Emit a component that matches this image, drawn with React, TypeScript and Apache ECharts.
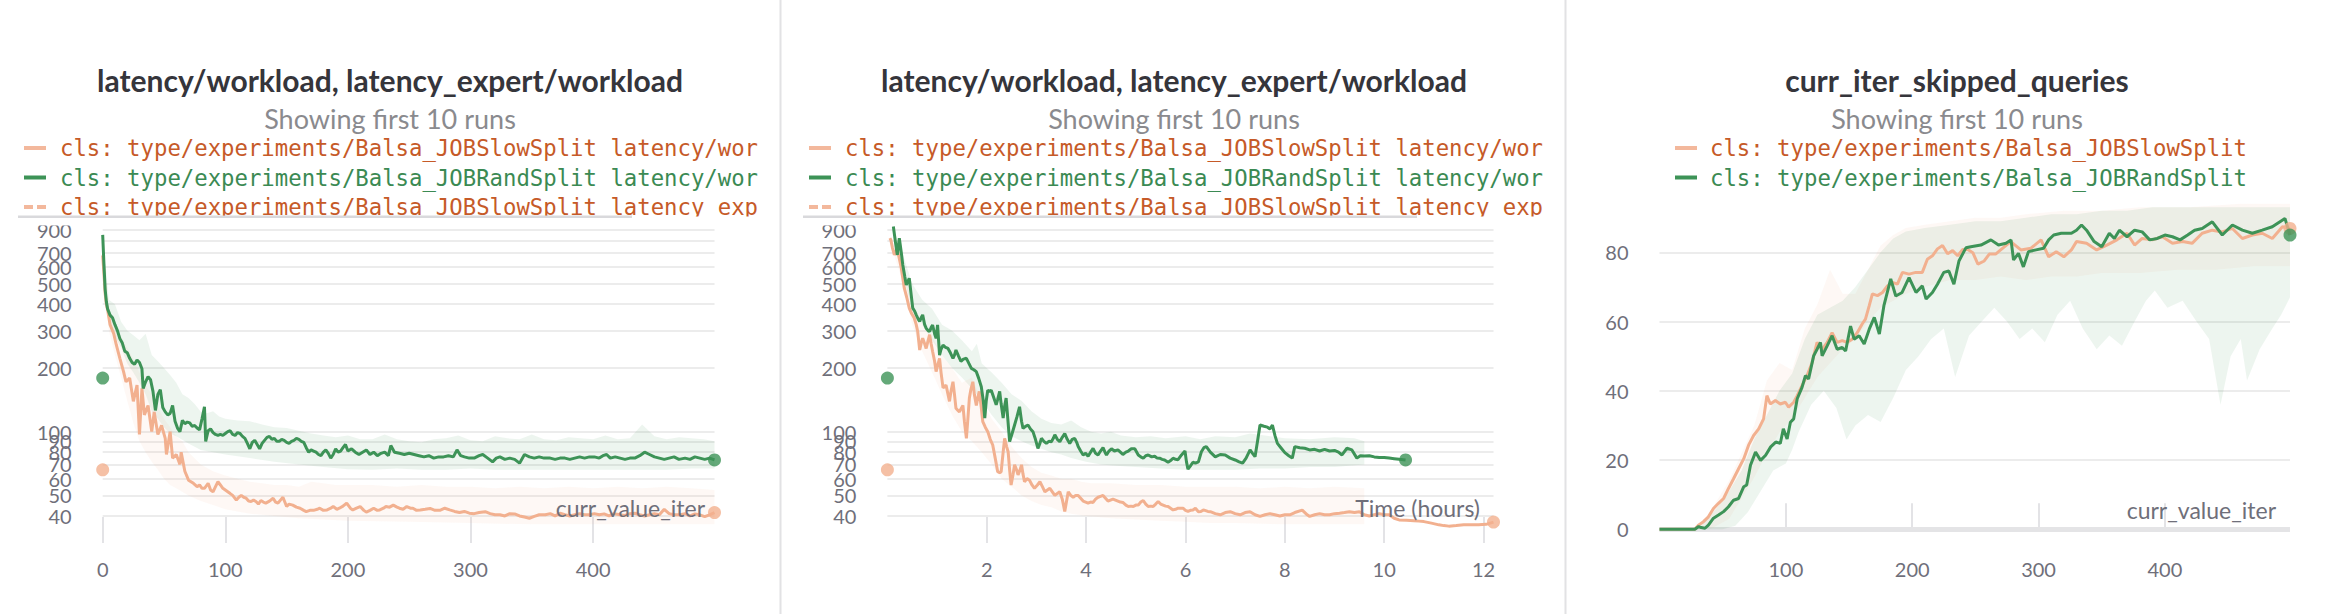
import React, { useEffect, useRef } from 'react';
import * as echarts from 'echarts';

// ---------------- Panel 1: latency vs curr_value_iter ----------------
const iterSlowLatency: number[][] = [
  [0,680],[1,560],[2,450],[3,400],[4,376],[6,320],[9,290],[11,258],[14,222],[17,192],[19,172],[22,179],[25,139],[28,166],[30,97],[32,160],[34,120],[37,133],[40,100],[42,124],[45,97],[48,107],[51,93],[52,78],[55,100],[57,75],[60,78],[63,70],[64,80],[67,65],[70,59],[72,58],[74,57],[77,55],[79,56],[81,54],[83,54],[86,57],[88,53],[90,52],[92,55],[94,58],[96,56],[98,54],[100,53],[102,52],[104,51],[106,50],[109,47.5],[111,49],[113,50],[115,49],[117,48.5],[119,47],[121,46.8],[123,47.5],[125,46.8],[127,45.5],[129,47.3],[131,46.5],[133,46],[136,47],[139,48.5],[141,46.5],[143,46],[145,47.5],[147,49],[150,44.3],[152,45.5],[155,45],[158,44],[161,43.5],[164,42.5],[166,41.9],[169,42.5],[172,42.5],[175,43],[177,43.5],[180,42.5],[183,42.7],[186,43.5],[188,44.3],[191,43],[193,43.5],[196,44.5],[199,46],[202,43.5],[204,42.7],[207,43.5],[210,44.3],[213,42.5],[215,41.7],[218,42.5],[221,43.5],[224,42.5],[226,42.7],[229,43.5],[231,44.3],[234,44],[237,45],[240,44],[242,43.5],[245,43],[248,44.3],[251,43.5],[253,43.5],[256,42.5],[259,42.7],[263,43],[267,43.4],[271,42.5],[275,42.5],[279,43.5],[283,42.7],[287,42],[291,41.5],[295,42],[299,41.2],[303,41],[307,41.5],[312,41.9],[316,41],[320,40.5],[324,40.5],[328,40],[332,41],[336,40.9],[340,40],[344,39.5],[348,39],[352,39.8],[356,40.5],[361,40.5],[365,41],[369,40],[373,41.2],[377,40.5],[381,40],[385,40.5],[389,41],[393,40.5],[397,40.5],[401,41],[405,40.5],[409,40.9],[413,40],[417,41],[422,40.5],[426,40.2],[430,41],[434,41.2],[438,40.5],[442,40],[446,40.5],[450,41],[454,40.5],[458,43],[462,41],[466,40.5],[471,40.5],[475,41],[479,40],[483,40.9],[487,40.5],[491,39.7],[495,40.5],[499,41.5],
];
const iterRandLatency: number[][] = [
  [0,850],[1,620],[2,470],[3,410],[4,380],[6,355],[8,345],[10,320],[12,300],[14,275],[16,262],[18,240],[20,236],[22,222],[24,212],[26,208],[28,218],[30,212],[32,198],[33,160],[35,172],[37,182],[39,176],[41,155],[43,126],[45,150],[47,158],[49,130],[51,124],[53,120],[55,122],[57,133],[59,112],[61,104],[63,100],[65,113],[67,109],[69,111],[71,110],[73,106],[75,107],[77,104],[79,102],[81,115],[83,131],[84,90],[86,101],[88,103],[90,99],[92,97],[94,96],[96,97],[98,96],[100,98],[102,100],[104,101],[106,97],[108,96],[110,99],[112,98],[114,95],[116,93],[118,88],[120,83],[122,89],[124,91],[126,87],[128,83],[130,88],[132,91],[134,94],[136,95],[138,92],[140,93],[142,90],[144,90],[146,92],[148,91],[150,89],[152,88],[154,90],[156,91],[158,93],[160,92],[162,90],[164,89],[166,84],[168,80],[170,82],[172,81],[174,80],[176,78],[178,77],[180,80],[182,82],[184,79],[186,75],[188,78],[190,83],[192,80],[194,81],[196,84],[198,87],[200,81],[203,83],[206,80],[209,78],[212,80],[215,82],[218,78],[221,80],[224,77],[227,79],[230,80],[233,77],[235,86],[238,80],[242,79],[246,78],[250,79],[254,78],[258,77],[262,76],[266,77],[270,75],[274,76],[278,76],[282,77],[286,76],[289,82],[292,77],[295,76],[299,75],[303,75],[307,77],[310,78],[314,75],[318,72],[321,75],[324,76],[328,74],[332,75],[336,74],[340,71],[344,78],[348,76],[352,75],[356,76],[360,75],[365,75],[369,74],[373,75],[377,75],[381,74],[385,75],[389,76],[393,75],[397,76],[401,76],[405,75],[408,77],[411,78],[414,75],[418,76],[422,75],[426,74],[430,75],[434,75],[438,77],[442,80],[446,78],[450,76],[454,75],[458,74],[462,75],[466,76],[470,74],[475,75],[479,74],[483,76],[487,75],[491,74],[495,75],[499,73.5],
];
const iterRandUpper: number[][] = [
  [0,850],[5,420],[10,400],[15,330],[20,300],[25,285],[30,270],[35,290],[40,230],[45,215],[50,200],[55,185],[60,170],[65,150],[70,144],[75,135],[80,124],[85,122],[90,125],[95,118],[100,115],[110,113],[120,112],[130,108],[140,105],[150,104],[160,101],[170,98],[180,96],[190,94],[200,96],[210,92],[220,92],[230,97],[240,92],[250,90],[260,89],[270,92],[280,93],[290,96],[300,91],[310,90],[320,95],[330,93],[340,92],[350,97],[360,92],[370,91],[380,94],[390,93],[400,92],[410,96],[420,92],[430,93],[440,108],[450,95],[460,92],[470,94],[480,93],[490,92],[499,90],
];
const iterRandLower: number[][] = [
  [0,850],[5,320],[10,280],[15,250],[20,210],[25,190],[30,170],[35,150],[40,125],[45,115],[50,105],[55,98],[60,95],[70,88],[80,82],[90,80],[100,78],[120,75],[140,72],[160,70],[180,68],[200,66.5],[220,66],[240,67],[260,66],[280,66],[300,67],[320,66],[340,66],[360,66],[380,66],[400,66],[420,66],[440,66],[460,66],[480,67],[499,67],
];
const iterSlowUpper: number[][] = [
  [0,700],[5,380],[10,330],[15,280],[20,250],[25,220],[30,190],[35,165],[40,150],[45,130],[50,115],[55,105],[60,95],[65,90],[70,80],[80,70],[90,65],[100,62],[110,60],[120,58],[130,57],[140,56],[150,56],[160,55],[170,58],[180,57],[190,56],[200,56],[220,56],[240,55],[260,56],[280,55],[300,55],[320,54],[340,55],[360,54],[380,55],[400,54],[420,55],[440,54],[460,55],[480,54],[499,53],
];
const iterSlowLower: number[][] = [
  [0,650],[5,300],[10,230],[15,180],[20,140],[25,110],[30,90],[35,80],[40,72],[45,66],[50,60],[55,56],[60,54],[70,50],[80,47],[90,45],[100,43],[120,41],[140,40],[160,39],[180,38.5],[200,38],[250,37.5],[300,37],[350,36.5],[400,36.5],[450,36.5],[499,36.5],
];
const expertSlowLatency = 66;
const expertRandLatency = 179;

// ---------------- Panel 2: latency vs Time (hours) ----------------
const timeSlowLatency: number[][] = [
  [0.05,820],[0.07,804],[0.1,740],[0.14,683],[0.17,720],[0.21,707],[0.25,640],[0.28,591],[0.31,530],[0.34,476],[0.39,430],[0.44,383],[0.49,360],[0.54,344],[0.58,320],[0.61,297],[0.65,243],[0.68,262],[0.71,276],[0.75,260],[0.78,247],[0.82,270],[0.85,287],[0.88,260],[0.91,239],[0.95,215],[0.98,192],[1.01,205],[1.05,222],[1.08,190],[1.12,161],[1.15,163],[1.18,166],[1.22,150],[1.25,139],[1.28,155],[1.32,172],[1.35,150],[1.38,129],[1.42,126],[1.45,124],[1.48,128],[1.52,133],[1.55,112],[1.59,93],[1.62,115],[1.65,144],[1.68,158],[1.72,172],[1.75,150],[1.79,133],[1.82,145],[1.85,155],[1.89,130],[1.92,111.6],[1.97,105],[2.02,100],[2.07,92],[2.12,86.5],[2.17,75],[2.22,64.7],[2.26,64],[2.29,64.7],[2.33,80],[2.36,93],[2.4,85],[2.43,80.4],[2.46,66],[2.49,56],[2.53,63],[2.56,69.7],[2.6,66],[2.63,62.5],[2.67,66],[2.7,69.7],[2.73,63],[2.76,58],[2.81,60],[2.86,59],[2.91,56],[2.96,54],[3.02,56],[3.07,58],[3.12,55],[3.17,52],[3.22,53],[3.27,54],[3.32,52],[3.37,50],[3.42,51],[3.47,52],[3.52,48],[3.57,42],[3.6,46],[3.64,52],[3.69,50],[3.74,49],[3.79,50],[3.84,50],[3.89,48.5],[3.94,47],[3.99,46.5],[4.04,46],[4.09,46.5],[4.14,46.3],[4.19,48],[4.24,49],[4.29,49.5],[4.34,50],[4.39,48.5],[4.44,47],[4.49,47.5],[4.54,48],[4.59,47.5],[4.64,47],[4.69,46.5],[4.74,46.3],[4.8,45],[4.85,44.3],[4.9,44.5],[4.95,44.3],[5.0,45],[5.05,45],[5.1,46.5],[5.15,47.3],[5.2,45.5],[5.25,44.3],[5.3,44.5],[5.35,44.3],[5.4,45.5],[5.45,46.8],[5.5,45.5],[5.55,45],[5.6,44.5],[5.65,44.3],[5.7,43.5],[5.75,42.7],[5.8,43],[5.85,43.5],[5.9,43.5],[5.95,43.5],[6.0,42.5],[6.05,42],[6.1,42.5],[6.15,42.7],[6.2,43.5],[6.26,41.9],[6.31,42],[6.36,42.7],[6.45,42],[6.5,41.9],[6.6,41],[6.7,40.5],[6.8,41.5],[6.9,41.9],[7.0,41],[7.1,40.5],[7.2,41.5],[7.3,41.9],[7.4,40.5],[7.5,39.8],[7.6,40.5],[7.7,41],[7.8,40.5],[7.9,40],[8.0,40.5],[8.1,40.5],[8.2,41.5],[8.35,42.6],[8.45,40.5],[8.5,39.8],[8.6,40.5],[8.7,41],[8.8,40.5],[8.9,40.5],[9.0,41],[9.1,41.2],[9.2,41.5],[9.3,41.9],[9.4,41.5],[9.5,41.9],[9.6,40.5],[9.7,40],[9.8,40.5],[9.9,41],[10.0,40.5],[10.1,40.5],[10.2,39],[10.3,38.3],[10.45,38.2],[10.6,38],[10.7,37.8],[10.8,37.6],[10.95,37],[11.1,36.3],[11.2,36],[11.3,35.8],[11.45,36],[11.6,36.3],[11.75,36.3],[11.9,36.3],[12.05,36.5],[12.2,37.4],
];
const timeRandLatency: number[][] = [
  [0.12,930],[0.17,760],[0.2,683],[0.24,820],[0.28,700],[0.31,613],[0.35,540],[0.38,493],[0.44,530],[0.48,440],[0.51,383],[0.55,370],[0.58,356],[0.62,340],[0.65,331],[0.68,345],[0.71,356],[0.75,320],[0.78,308],[0.82,300],[0.85,297],[0.88,310],[0.91,319],[0.95,290],[0.98,276],[1.01,319],[1.05,230],[1.08,245],[1.12,256],[1.17,250],[1.22,247],[1.27,235],[1.32,222],[1.35,230],[1.38,243],[1.43,228],[1.48,215],[1.53,220],[1.59,222],[1.64,210],[1.69,199],[1.74,196],[1.79,192],[1.84,178],[1.89,163],[1.93,140],[1.96,116],[1.99,140],[2.02,157],[2.06,155],[2.09,157],[2.14,145],[2.19,134],[2.22,142],[2.26,155],[2.29,135],[2.33,116],[2.36,132],[2.39,144],[2.43,110],[2.46,89.7],[2.51,98],[2.56,107.5],[2.61,118],[2.66,131],[2.7,112],[2.73,103.5],[2.78,106],[2.83,107.5],[2.88,103],[2.93,100],[2.98,92],[3.03,83.4],[3.07,88],[3.1,93],[3.15,90],[3.2,88],[3.25,90],[3.3,89.7],[3.34,93],[3.37,96.6],[3.42,92],[3.47,89.7],[3.52,94],[3.57,98],[3.62,92],[3.67,88],[3.72,92],[3.77,93],[3.81,89],[3.84,85],[3.89,81],[3.94,77.6],[3.99,79],[4.04,76.5],[4.09,80],[4.14,83.4],[4.19,79],[4.24,77.6],[4.29,81],[4.34,84],[4.38,80],[4.41,77.6],[4.46,81],[4.51,83],[4.57,81],[4.64,82],[4.69,80],[4.74,78],[4.8,80],[4.85,81],[4.91,83],[4.98,83],[5.05,77.6],[5.1,76],[5.15,74.9],[5.2,77],[5.25,77.6],[5.32,76],[5.38,76.5],[5.43,75],[5.48,74.9],[5.53,74],[5.58,73.5],[5.65,71.7],[5.7,73],[5.75,74.9],[5.8,74],[5.85,73.7],[5.92,77.6],[5.99,81],[6.02,72],[6.05,66.5],[6.1,69],[6.15,71.7],[6.2,71],[6.26,72],[6.32,80.4],[6.37,84],[6.42,85],[6.5,80],[6.6,76],[6.7,78],[6.8,77.6],[6.9,75],[7.0,73.5],[7.08,72],[7.15,71],[7.22,75],[7.3,82],[7.35,79],[7.4,76.2],[7.45,90],[7.5,107.5],[7.58,106],[7.65,105],[7.7,103],[7.75,107.5],[7.8,96],[7.85,88],[7.92,84],[8.0,79.6],[8.08,77],[8.15,75],[8.2,85],[8.3,84],[8.4,83.5],[8.5,82],[8.6,82.5],[8.7,81],[8.8,82.5],[8.9,81],[9.0,81.5],[9.08,80],[9.15,77.6],[9.25,83.5],[9.35,82],[9.45,75],[9.52,77],[9.6,76.7],[9.7,77],[9.8,76],[9.9,75.5],[10.0,75.5],[10.1,75],[10.2,74.5],[10.3,74],[10.43,73.5],
];
const timeRandUpper: number[][] = [
  [0.1,930],[0.3,700],[0.5,500],[0.7,420],[0.9,380],[1.1,320],[1.3,300],[1.5,270],[1.7,240],[1.8,260],[1.9,210],[2.1,190],[2.3,170],[2.5,150],[2.7,140],[2.9,125],[3.1,115],[3.3,110],[3.5,108],[3.7,113],[3.9,105],[4.1,100],[4.3,98],[4.5,100],[4.7,96],[5.0,94],[5.3,95],[5.6,93],[6.0,95],[6.3,92],[6.6,95],[7.0,94],[7.3,98],[7.6,96],[8.0,93],[8.5,92],[9.0,94],[9.4,93],[9.6,90],
];
const timeRandLower: number[][] = [
  [0.1,900],[0.3,560],[0.5,380],[0.7,320],[0.9,270],[1.1,230],[1.3,200],[1.5,180],[1.7,160],[1.9,140],[2.1,120],[2.3,105],[2.5,95],[2.7,90],[2.9,86],[3.1,83],[3.3,80],[3.5,78],[3.7,75],[4.0,72],[4.3,70],[4.6,69],[5.0,68],[5.5,67],[6.0,66],[6.5,66],[7.0,66],[7.5,67],[8.0,67],[8.5,68],[9.0,68],[9.6,70],
];
const timeSlowUpper: number[][] = [
  [0.05,830],[0.3,620],[0.5,400],[0.7,320],[0.9,280],[1.1,230],[1.3,200],[1.5,170],[1.7,180],[1.9,140],[2.1,115],[2.3,100],[2.5,85],[2.7,75],[2.9,68],[3.1,64],[3.3,62],[3.5,60],[3.7,60],[3.9,58],[4.1,57],[4.5,57],[5.0,56],[5.5,56],[6.0,55],[6.5,55],[7.0,55],[7.5,54],[8.0,55],[8.5,54],[9.0,55],[9.6,54],
];
const timeSlowLower: number[][] = [
  [0.05,780],[0.3,520],[0.5,320],[0.7,240],[0.9,190],[1.1,150],[1.3,120],[1.5,100],[1.7,90],[1.9,80],[2.1,70],[2.3,60],[2.5,55],[2.7,50],[2.9,47],[3.1,45],[3.3,44],[3.5,42],[3.7,41],[4.0,40],[4.5,39],[5.0,38.5],[5.5,38],[6.0,37.5],[6.5,37],[7.0,37],[8.0,36.5],[9.0,36.5],[9.6,36.5],
];

// ---------------- Panel 3: curr_iter_skipped_queries ----------------
const skipSlow: number[][] = [
  [0,0],[10,0],[20,0],[28,0],[30.8,1.2],[34.8,2.2],[38.7,3.6],[42.7,6],[46.7,7.5],[50.7,8.9],[54.6,11.8],[58.6,14.6],[62.6,17.5],[66.7,20.4],[70.5,24.3],[74.5,27.1],[78.5,29],[82.4,31.9],[85,38.6],[87.7,36.2],[91.7,37.2],[95.6,36.2],[99.6,36.7],[102.2,35.3],[106.2,36.7],[109,38.6],[112.8,41.5],[116.8,44.4],[120.8,48.2],[124.7,54],[128.7,52],[132.7,54],[136.6,56.8],[140.6,54],[144.6,54.5],[148.5,54],[152.5,54.9],[156.5,56.8],[160.4,59.3],[163,60.7],[166,64.6],[168.5,68],[172.5,67.5],[176.5,68.4],[180.4,70.3],[184.4,71.3],[188.3,70.8],[192.3,74.2],[197.5,73.7],[202.8,74.2],[208,74.2],[212,78],[216,79],[220,81],[224,82],[228,79.6],[232,80.5],[236,79],[240,80.8],[244,80.8],[248,79.9],[252,76.6],[257,77.5],[261,79.5],[266,79.5],[270,80.7],[278,83.1],[286,80.7],[294,81.2],[302,83.6],[308,78.7],[314,80.2],[320,78.7],[326,80.7],[330,83.1],[338,82.6],[346,80.7],[354,82.1],[362,83.6],[370,85.5],[376,82.1],[382,84],[390,83.6],[398,84.5],[406,82.6],[414,83.1],[421.5,82.6],[429.5,85.5],[437.5,86.4],[445.4,85.9],[453.4,86.9],[461.3,84],[469.2,85],[477,85.5],[485,84],[493,87.4],[499,86.9],
];
const skipRand: number[][] = [
  [0,0],[10,0],[20,0],[28,0],[31,0.8],[33,0.5],[36,0.3],[38.7,1.2],[42.7,3.2],[46.7,4.1],[50.7,5.1],[54.6,6.5],[58.6,8.4],[62.6,8.9],[66.7,12.3],[69,12.8],[72,18.5],[76,22.3],[80,19.9],[84,21.4],[88,23.8],[92,25.2],[95.6,24.8],[98,29],[101,26.1],[103.6,30.9],[106.2,31.9],[109,37.7],[112.8,41],[115.5,44.4],[118,43.4],[122,50.1],[124.7,52],[127.4,54],[128.7,50.1],[132.7,53],[136.6,55.9],[140.6,52],[144.6,52.5],[147.3,51.5],[151.2,58.7],[154,54.9],[158,55.9],[162,53.5],[166,57.8],[170,61.2],[174,56.4],[177.6,64.6],[183,72.3],[187,67.4],[192,68.4],[197.5,72.7],[203,68.4],[208,70.3],[211,66.5],[216,68.4],[220,70.8],[225,74.2],[229,74.6],[233,70.8],[237,77.5],[242.5,81.3],[246.4,81.6],[254.4,82.1],[262.3,83.6],[268.3,82.1],[274.2,82.6],[278.2,83.6],[280.2,77.8],[284.1,79.7],[288,75.8],[292,80.2],[298,80.7],[304,81.2],[308,83.6],[312,85],[318,85.5],[326,85.5],[330,86.4],[334,87.9],[338,86.4],[344,83.1],[350,81.6],[356,85.5],[360,84],[364,86.4],[370,84.5],[376,86.4],[382,85.9],[388,83.6],[394,84],[400,85],[406,84.5],[412,83.6],[418,85],[423.5,86.4],[429.5,86.9],[437.5,88.8],[445.4,85],[453.4,87.9],[461.3,86.4],[469.2,85.5],[477,86.4],[485,87.4],[495,89.8],[499,85],
];
const skipRandUpper: number[][] = [
  [0,0],[25,0],[35,2],[45,6],[55,11],[65,17],[75,26],[85,33],[95,40],[105,45],[115,55],[125,62],[135,64],[145,66],[155,70],[165,75],[175,80],[185,84],[195,86],[210,87],[230,88],[250,89],[270,89],[290,90],[310,91],[330,91],[350,92],[370,92],[390,93],[410,93],[430,93],[450,93],[470,93],[490,93],[499,93],
];
const skipRandLower: number[][] = [
  [0,0],[40,0],[50,0],[60,1],[70,5],[80,11],[90,17],[100,19],[105,23],[110,28],[120,36],[130,40],[140,35],[148,26],[155,30],[165,33],[175,31],[185,38],[195,46],[205,50],[215,55],[225,58],[234,44],[245,56],[255,60],[265,64],[275,60],[285,55],[295,58],[305,54],[315,62],[325,66],[335,58],[346,52],[356,56],[366,53],[376,60],[385,66],[392,69],[402,64],[414,66],[425,60],[435,55],[444,36],[452,50],[460,55],[465,43],[475,52],[485,58],[492,62],[499,67],
];
const skipSlowUpper: number[][] = [
  [0,0],[25,0],[35,2],[45,8],[55,14],[65,22],[75,30],[85,43],[95,48],[105,46],[115,58],[125,65],[135,75],[145,68],[155,68],[165,75],[175,82],[185,85],[195,87],[210,88],[230,89],[250,90],[270,90],[290,91],[320,92],[350,92],[380,93],[420,93],[460,94],[499,94],
];
const skipSlowLower: number[][] = [
  [0,0],[40,0],[55,3],[65,9],[75,15],[85,22],[95,28],[105,32],[115,38],[125,44],[135,48],[145,52],[155,55],[165,60],[175,64],[185,66],[195,68],[210,70],[230,72],[250,72],[270,73],[290,72],[310,73],[330,73],[350,74],[380,74],[410,75],[440,75],[470,76],[499,76],
];

// ---------------- ticks & texts ----------------
const logTicks = [40, 50, 60, 70, 80, 90, 100, 200, 300, 400, 500, 600, 700, 800, 900];
const iterTicks = [0, 100, 200, 300, 400];
const hourTicks = [2, 4, 6, 8, 10, 12];
const skipIterTicks = [100, 200, 300, 400];
const skipTicks = [0, 20, 40, 60, 80];

const latencyTitle = 'latency/workload, latency_expert/workload';
const skipTitle = 'curr_iter_skipped_queries';
const subtitle = 'Showing first 10 runs';
const latencyLegend = [
  'cls: type/experiments/Balsa_JOBSlowSplit latency/wor',
  'cls: type/experiments/Balsa_JOBRandSplit latency/wor',
  'cls: type/experiments/Balsa_JOBSlowSplit latency_exp',
];
const skipLegend = [
  'cls: type/experiments/Balsa_JOBSlowSplit',
  'cls: type/experiments/Balsa_JOBRandSplit',
];

const SLOW = '#f2b08f';
const RAND = '#3d9357';
const SLOW_TXT = '#c65a28';
const RAND_TXT = '#3b8a53';
const SLOW_BAND = 'rgba(242,176,143,0.09)';
const RAND_BAND = 'rgba(61,147,87,0.095)';
const LABEL = '#6f6f7a';
const GRIDLINE = '#ececec';

function band(upper: number[][], lower: number[][], fill: string, idx: number) {
  return {
    type: 'custom',
    xAxisIndex: idx,
    yAxisIndex: idx,
    silent: true,
    clip: true,
    z: 1,
    data: [upper[0]],
    renderItem: (_p: any, api: any) => {
      const pts = upper.map((p) => api.coord(p)).concat(lower.slice().reverse().map((p) => api.coord(p)));
      return { type: 'polygon', shape: { points: pts }, style: { fill } };
    },
  };
}

function line(data: number[][], color: string, idx: number) {
  return {
    type: 'line', data, xAxisIndex: idx, yAxisIndex: idx, showSymbol: false, symbol: 'none',
    silent: true, z: 3, lineStyle: { color, width: 3 }, itemStyle: { color },
  };
}

function dot(data: number[][], color: string, idx: number) {
  return {
    type: 'scatter', data, xAxisIndex: idx, yAxisIndex: idx, symbolSize: 13, clip: false,
    silent: true, z: 4, itemStyle: { color },
  };
}

const tickLabel = { color: LABEL, fontSize: 20, fontFamily: 'Lato' };

function xAxis(idx: number, max: number, ticks: number[]) {
  return {
    type: 'value', gridIndex: idx, min: 0, max,
    axisLine: { show: false }, splitLine: { show: false },
    axisTick: { show: true, inside: true, length: 26, lineStyle: { color: '#e3e3e6', width: 2 }, customValues: ticks },
    axisLabel: { ...tickLabel, margin: 16, customValues: ticks, showMinLabel: true, showMaxLabel: true },
  };
}

function logYAxis(idx: number) {
  return {
    type: 'log', logBase: 10, gridIndex: idx, min: 29.8, max: 950,
    axisLine: { show: false },
    axisTick: { show: false, customValues: logTicks },
    axisLabel: { ...tickLabel, margin: 31, customValues: logTicks, showMinLabel: true, showMaxLabel: true, hideOverlap: false },
    splitLine: { show: true, showMinLine: true, showMaxLine: true, lineStyle: { color: GRIDLINE, width: 2 } },
  };
}

function txt(text: string, x: number, y: number, font: string, fill: string, align = 'left') {
  return {
    type: 'text', x, y, z: 60, silent: true,
    style: { text, font, fill, align, verticalAlign: 'middle', textAlign: align, textVerticalAlign: 'middle' },
  };
}
function box(x: number, y: number, w: number, h: number, fill: string, z = 60) {
  return { type: 'rect', silent: true, z, shape: { x, y, width: w, height: h }, style: { fill } };
}

function legendBlock(iconX: number, textX: number, texts: string[], withExpert: boolean) {
  const els: any[] = [];
  const ys = [148, 177.5, 207];
  const font = '22.3px "DejaVu Sans Mono"';
  els.push(box(iconX, ys[0] - 2, 22, 4, '#f3b89c'));
  els.push(txt(texts[0], textX, ys[0], font, SLOW_TXT));
  els.push(box(iconX, ys[1] - 2, 22, 4, RAND));
  els.push(txt(texts[1], textX, ys[1], font, RAND_TXT));
  if (withExpert) {
    els.push(box(iconX, ys[2] - 2, 9, 4, '#f3b89c'));
    els.push(box(iconX + 13, ys[2] - 2, 9, 4, '#f3b89c'));
    els.push(txt(texts[2], textX, ys[2], font, SLOW_TXT));
    // legend viewport clipping + scroll bar
    els.push(box(iconX - 12, 216.5, 750, 9, '#ffffff', 70));
    els.push(box(iconX - 6, 215.5, 614, 2.5, '#d9d9dc', 71));
  }
  return els;
}

export default function App() {
  const ref = useRef<HTMLDivElement>(null);
  useEffect(() => {
    if (!ref.current) return;
    const chart = echarts.init(ref.current, null, { renderer: 'svg' });
    const lastOf = (d: number[][]) => [d[d.length - 1]];
    const option: any = {
      animation: false,
      backgroundColor: '#ffffff',
      textStyle: { fontFamily: 'Lato' },
      grid: [
        { left: 102.7, top: 224.6, width: 611.8, height: 318.4, containLabel: false, outerBoundsMode: 'none' },
        { left: 887.4, top: 224.6, width: 606.1, height: 318.4, containLabel: false, outerBoundsMode: 'none' },
        { left: 1659.5, top: 200.4, width: 630.5, height: 342.6, containLabel: false, outerBoundsMode: 'none' },
      ],
      xAxis: [xAxis(0, 499, iterTicks), xAxis(1, 12.2, hourTicks), xAxis(2, 499, skipIterTicks)],
      yAxis: [
        logYAxis(0),
        logYAxis(1),
        {
          type: 'value', gridIndex: 2, min: -3.96, max: 95,
          axisLine: { show: false },
          axisTick: { show: false, customValues: skipTicks },
          axisLabel: { ...tickLabel, margin: 31, customValues: skipTicks, showMinLabel: true, showMaxLabel: true },
          splitLine: { show: true, lineStyle: { color: GRIDLINE, width: 2 } },
        },
      ],
      series: [
        band(iterRandUpper, iterRandLower, RAND_BAND, 0),
        band(iterSlowUpper, iterSlowLower, SLOW_BAND, 0),
        line(iterSlowLatency, SLOW, 0),
        line(iterRandLatency, RAND, 0),
        dot(lastOf(iterSlowLatency), SLOW, 0),
        dot(lastOf(iterRandLatency), RAND, 0),
        dot([[0, expertSlowLatency]], SLOW, 0),
        dot([[0, expertRandLatency]], RAND, 0),

        band(timeRandUpper, timeRandLower, RAND_BAND, 1),
        band(timeSlowUpper, timeSlowLower, SLOW_BAND, 1),
        line(timeSlowLatency, SLOW, 1),
        line(timeRandLatency, RAND, 1),
        dot(lastOf(timeSlowLatency), SLOW, 1),
        dot(lastOf(timeRandLatency), RAND, 1),
        dot([[0, expertSlowLatency]], SLOW, 1),
        dot([[0, expertRandLatency]], RAND, 1),

        {
          type: 'line', data: [[0, 0]], xAxisIndex: 2, yAxisIndex: 2, showSymbol: false, symbol: 'none',
          silent: true, z: 1, lineStyle: { opacity: 0 },
          markLine: {
            silent: true, symbol: 'none', z: 1, label: { show: false },
            lineStyle: { color: '#e4e4e6', width: 5, type: 'solid' },
            data: [{ yAxis: 0 }],
          },
        },
        band(skipSlowUpper, skipSlowLower, SLOW_BAND, 2),
        band(skipRandUpper, skipRandLower, RAND_BAND, 2),
        line(skipSlow, SLOW, 2),
        line(skipRand, RAND, 2),
        dot(lastOf(skipSlow), SLOW, 2),
        dot(lastOf(skipRand), RAND, 2),
      ],
      graphic: [
        box(779.5, 0, 2, 614, '#e2e2e4'),
        box(1564.5, 0, 2, 614, '#e2e2e4'),
        txt(latencyTitle, 390, 80, 'bold 30px Lato', '#35353b', 'center'),
        txt(latencyTitle, 1174, 80, 'bold 30px Lato', '#35353b', 'center'),
        txt(skipTitle, 1957, 80, 'bold 30px Lato', '#35353b', 'center'),
        txt(subtitle, 390, 118, '27px Lato', '#8a8a8e', 'center'),
        txt(subtitle, 1174, 118, '27px Lato', '#8a8a8e', 'center'),
        txt(subtitle, 1957, 118, '27px Lato', '#8a8a8e', 'center'),
        ...legendBlock(24, 60, latencyLegend, true),
        ...legendBlock(809, 845, latencyLegend, true),
        ...legendBlock(1675, 1710, skipLegend, false),
        txt('curr_value_iter', 705, 508, '23px Lato', LABEL, 'right'),
        txt('Time (hours)', 1480, 508, '23px Lato', LABEL, 'right'),
        txt('curr_value_iter', 2276, 510, '23px Lato', LABEL, 'right'),
      ],
    };
    chart.setOption(option);
    return () => chart.dispose();
  }, []);
  return <div ref={ref} style={{ position: 'absolute', left: 0, top: 0, width: 2348, height: 614, background: '#fff' }} />;
}
